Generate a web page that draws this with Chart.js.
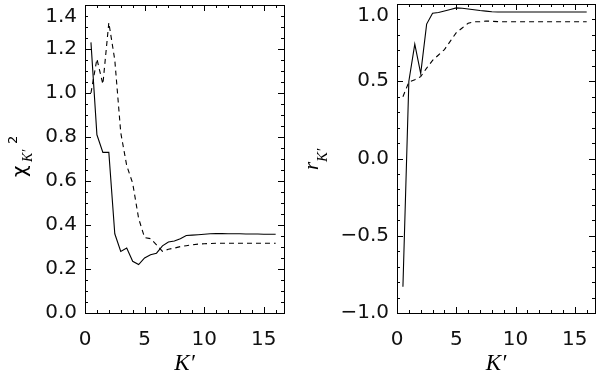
<!DOCTYPE html>
<html>
<head>
<meta charset="utf-8">
<script src="https://cdn.jsdelivr.net/npm/chart.js@4.4.0/dist/chart.umd.min.js"></script>
<style>
  html, body { margin: 0; padding: 0; background: #fff; }
  #wrap { position: relative; width: 600px; height: 373px; }
  .panel { position: absolute; top: 0; width: 300px; height: 373px; }
</style>
</head>
<body>
<div id="wrap">
  <div class="panel" style="left:0"><canvas id="chi"></canvas></div>
  <div class="panel" style="left:300px"><canvas id="corr"></canvas></div>
</div>
<script>
// K' values shared by all four curves
const kPrime = [0.5, 1.0, 1.5, 2.0, 2.5, 3.0, 3.5, 4.0, 4.5, 5.0, 5.5, 6.0, 6.5, 7.0, 7.5, 8.0,
                8.5, 9.0, 9.5, 10.0, 10.5, 11.0, 11.5, 12.0, 12.5, 13.0, 13.5, 14.0, 14.5, 15.0, 15.5, 16.0]

// left panel: chi^2
const chiSolid = [1.23, 0.81, 0.73, 0.73, 0.36, 0.28, 0.295, 0.235, 0.22, 0.25, 0.265, 0.272, 0.305, 0.323, 0.327, 0.338,
                  0.352, 0.354, 0.356, 0.358, 0.36, 0.361, 0.361, 0.36, 0.36, 0.36, 0.359, 0.359, 0.359, 0.358, 0.358, 0.358]
const chiDashed = [1.0, 1.155, 1.04, 1.32, 1.15, 0.82, 0.67, 0.59, 0.43, 0.343, 0.338, 0.31, 0.28, 0.29, 0.295, 0.302,
                   0.306, 0.31, 0.313, 0.315, 0.316, 0.317, 0.317, 0.317, 0.317, 0.317, 0.317, 0.317, 0.317, 0.317, 0.317, 0.317]

// right panel: r
const rSolid = [-0.83, 0.5, 0.74, 0.55, 0.87, 0.94, 0.945, 0.955, 0.965, 0.975, 0.972, 0.968, 0.963, 0.958, 0.954, 0.95,
                0.948, 0.948, 0.948, 0.948, 0.948, 0.948, 0.948, 0.948, 0.948, 0.948, 0.948, 0.948, 0.948, 0.948, 0.948, 0.948]
const rDashed = [0.4, 0.495, 0.51, 0.53, 0.585, 0.635, 0.67, 0.705, 0.76, 0.815, 0.845, 0.875, 0.885, 0.885, 0.89, 0.888,
                 0.886, 0.885, 0.885, 0.885, 0.885, 0.885, 0.885, 0.885, 0.885, 0.885, 0.885, 0.885, 0.885, 0.885, 0.885, 0.885]

const xTickLabels = [0, 5, 10, 15]

Chart.defaults.font.family = 'DejaVu Sans'
Chart.defaults.font.size = 20
Chart.defaults.color = '#111'

function series(ys) {
  return kPrime.map((k, i) => ({ x: k, y: ys[i] }))
}

// box with inward ticks on all four sides, plus the axis titles
const frame = {
  id: 'frame',
  afterDraw(chart, args, opts) {
    const { ctx, chartArea: a, scales: { x, y } } = chart
    ctx.save()
    ctx.strokeStyle = '#000'
    ctx.lineWidth = 1
    ctx.strokeRect(Math.round(a.left) + 0.5, Math.round(a.top) + 0.5,
                   Math.round(a.right - a.left), Math.round(a.bottom - a.top))
    ctx.beginPath()
    for (let v = 0; v <= x.max; v += 1) {
      const px = Math.round(x.getPixelForValue(v)) + 0.5
      const len = v % 5 === 0 ? 6 : 3
      ctx.moveTo(px, a.bottom); ctx.lineTo(px, a.bottom - len)
      ctx.moveTo(px, a.top); ctx.lineTo(px, a.top + len)
    }
    const n = Math.round((y.max - y.min) / opts.minor)
    for (let i = 0; i <= n; i++) {
      const py = Math.round(y.getPixelForValue(y.min + i * opts.minor)) + 0.5
      const len = i % opts.per === 0 ? 6 : 3
      ctx.moveTo(a.left, py); ctx.lineTo(a.left + len, py)
      ctx.moveTo(a.right, py); ctx.lineTo(a.right - len, py)
    }
    ctx.stroke()

    // x title
    ctx.fillStyle = '#000'
    ctx.font = 'italic 23px "Liberation Serif"'
    ctx.textAlign = 'center'
    ctx.textBaseline = 'alphabetic'
    ctx.fillText("K\u2032", (a.left + a.right) / 2, 370)

    // y title, rotated, made of pieces (text, font, along, across)
    ctx.translate(0, opts.titleY)
    ctx.rotate(-Math.PI / 2)
    ctx.textAlign = 'left'
    opts.titleParts.forEach(p => {
      ctx.font = p[1]
      ctx.fillText(p[0], p[2], p[3])
    })
    ctx.restore()
  }
}

function makePanel(id, solid, dashed, yOpts, frameOpts, yWidth, pad) {
  return new Chart(document.getElementById(id), {
    type: 'line',
    data: {
      datasets: [
        { data: series(solid), borderColor: '#000', borderWidth: 1.1, pointRadius: 0, tension: 0, fill: false },
        { data: series(dashed), borderColor: '#000', borderWidth: 1.1, borderDash: [5, 4], pointRadius: 0, tension: 0, fill: false }
      ]
    },
    options: {
      responsive: true,
      maintainAspectRatio: false,
      devicePixelRatio: 1,
      animation: false,
      layout: { padding: pad },
      plugins: {
        legend: { display: false },
        tooltip: { enabled: false },
        frame: frameOpts
      },
      scales: {
        x: {
          type: 'linear',
          min: 0,
          max: 16.7,
          grid: { display: false, drawTicks: false },
          border: { display: false },
          ticks: {
            stepSize: 5,
            includeBounds: false,
            autoSkip: false,
            padding: 15,
            maxRotation: 0,
            callback: v => xTickLabels.includes(v) ? String(v) : ''
          },
          afterFit(s) { s.height = 60; s.paddingLeft = 0; s.paddingRight = 0 }
        },
        y: Object.assign({
          grid: { display: false, drawTicks: false },
          border: { display: false },
          afterFit(s) { s.width = yWidth; s.paddingTop = 0; s.paddingBottom = 0 }
        }, yOpts)
      }
    },
    plugins: [frame]
  })
}

const fmt = (v, top) => {
  const s = v.toFixed(1).replace('-', '\u2212')
  return Math.abs(v - top) < 1e-6 ? ['', s] : s
}

makePanel('chi', chiSolid, chiDashed,
  { min: 0, max: 1.4, ticks: { stepSize: 0.2, padding: 8, autoSkip: false, callback: v => fmt(v, 1.4) } },
  {
    minor: 0.05, per: 4, titleY: 152,
    titleParts: [
      ['\u03c7', '20px "DejaVu Sans"', -25, 26],
      ['K\u2032', 'italic 14px "Liberation Serif"', -10, 32],
      ['2', '13px "DejaVu Sans"', 8, 17]
    ]
  },
  85, { top: 5, right: 16, bottom: 0, left: 0 })

makePanel('corr', rSolid, rDashed,
  { min: -1, max: 1, ticks: { stepSize: 0.5, padding: 8, autoSkip: false, callback: v => fmt(v, 1) } },
  {
    minor: 0.1, per: 5, titleY: 160,
    titleParts: [
      ['r', 'italic 21px "Liberation Serif"', -10, 18],
      ['K\u2032', 'italic 15px "Liberation Serif"', -2, 27]
    ]
  },
  97, { top: 4, right: 5, bottom: 0, left: 0 })
</script>
</body>
</html>
